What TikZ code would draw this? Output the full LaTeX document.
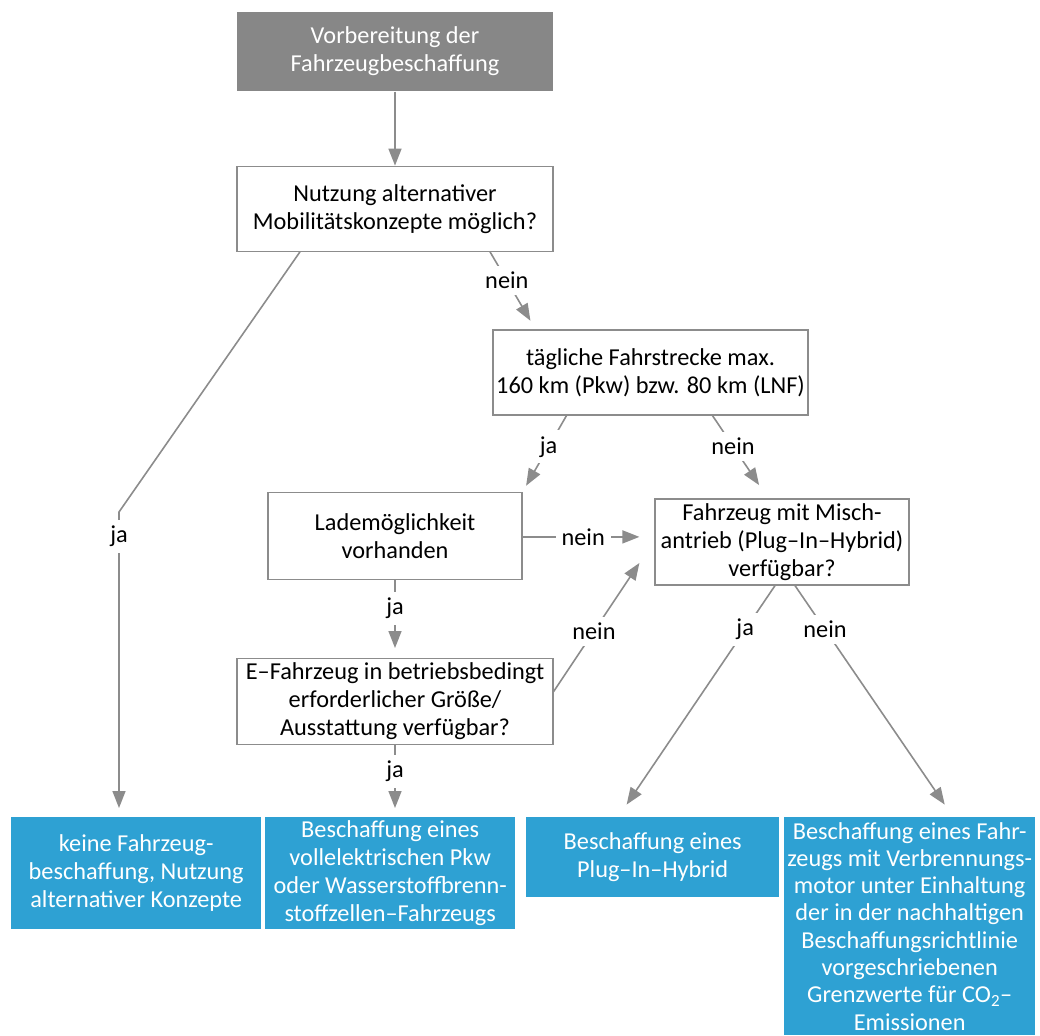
\documentclass[tikz,border=0pt]{standalone}
\usepackage{fontspec}
\setmainfont{Carlito}
\usepackage{tikz}
\usetikzlibrary{arrows.meta,positioning,calc}
\usepackage{xcolor}
\definecolor{linegray}{RGB}{140,140,140}
\definecolor{headgray}{RGB}{135,135,135}
\definecolor{resultblue}{RGB}{46,161,211}

\begin{document}
\begin{tikzpicture}[x=1pt, y=-1pt, font=\fontsize{24.3}{28}\selectfont]

    \tikzstyle{block} = [
        rectangle,
        draw=linegray,
        line width=1.2pt,
        fill=white,
        align=center,
        inner sep=0pt,
        minimum width=316pt,
        minimum height=85pt,
    ]
    \tikzstyle{head} = [
        block,
        draw=none,
        fill=headgray,
        text=white,
        minimum height=79pt,
    ]
    \tikzstyle{result} = [
        rectangle,
        fill=resultblue,
        text=white,
        align=center,
        anchor=north west,
        inner sep=0pt,
        minimum width=250pt,
        minimum height=112pt,
    ]
    \tikzstyle{line} = [
        draw=linegray,
        line width=1.6pt,
        -{Triangle[width=13pt,length=17pt]},
    ]
    \tikzstyle{answer} = [
        fill=white,
        inner sep=6pt,
    ]

    \useasboundingbox (0,0) rectangle (1040,1035);

    \node [head] (prep) at (395,51.5) {Vorbereitung der\\Fahrzeugbeschaffung};
    \node [block, below=74pt of prep] (alt) {Nutzung alternativer\\Mobilitätskonzepte möglich?};
    \node [block, minimum width=315pt] (dist) at (650.5,372.5)
        {tägliche Fahrstrecke max.\\160 km (Pkw) bzw. 80 km (LNF)};
    \node [block, minimum width=254pt, minimum height=87pt, below=240pt of alt] (charge)
        {Lademöglichkeit\\vorhanden};
    \node [block, minimum width=254pt, minimum height=86pt] (hybq) at (782,542)
        {Fahrzeug mit Misch-\\antrieb (Plug–In–Hybrid)\\verfügbar?};
    \node [block, minimum height=86pt, below=78pt of charge] (evq)
        {E–Fahrzeug in betriebsbedingt\\erforderlicher Größe/\\Ausstattung verfügbar?};

    % Ergebnisse
    \node [result] (res1) at (11,817)
        {keine Fahrzeug-\\beschaffung, Nutzung\\alternativer Konzepte};
    \node [result] (res2) at (265,817)
        {Beschaffung eines\\vollelektrischen Pkw\\oder Wasserstoffbrenn-\\stoffzellen–Fahrzeugs};
    \node [result, minimum width=253pt, minimum height=80pt] (res3) at (526,817)
        {Beschaffung eines\\Plug–In–Hybrid};
    \node [result, minimum width=251pt, minimum height=218pt,
        font=\fontsize{24.3}{27.3}\selectfont] (res4) at (784,817)
        {Beschaffung eines Fahr-\\zeugs mit Verbrennungs-\\motor unter Einhaltung\\der in der nachhaltigen\\Beschaffungsrichtlinie\\vorgeschriebenen\\Grenzwerte für CO\textsubscript{2}–\\Emissionen};

    \coordinate (jbend) at (119,512);
    \coordinate (nstart) at ([yshift=-1pt]charge.east);

    \path [line] (prep) -- (alt);
    \path [line, shorten >=9pt] ([xshift=-95pt]alt.south) -- (jbend)
        -- node [answer, pos=0.08] {ja} (jbend |- res1.north);
    \path [line, shorten >=10pt] ([xshift=95pt]alt.south)
        -- node [answer, pos=0.37] {nein} ([xshift=-115pt]dist.north);

    \path [line, shorten >=7pt] ([xshift=-84pt]dist.south)
        -- node [answer, pos=0.41] {ja} (charge.north east);
    \path [line, shorten >=16pt] ([xshift=62pt]dist.south)
        -- node [answer, pos=0.37] {nein} ([xshift=-14pt]hybq.north);

    \path [line, shorten >=15pt] (nstart)
        -- node [answer, pos=0.46] {nein} (hybq.west |- nstart);
    \path [line, shorten >=10pt] (charge)
        -- node [answer, pos=0.36] {ja} (evq);

    \path [line] ([yshift=10pt]evq.east)
        -- node [answer, pos=0.47] {nein} ([xshift=-15pt,yshift=-21pt]hybq.west);
    \path [line, shorten >=9pt] (evq.south)
        -- node [answer, pos=0.36] {ja} (evq.south |- res2.north);

    \path [line, shorten >=15pt] ([xshift=-7pt]hybq.south)
        -- node [answer, pos=0.19] {ja} ([xshift=-34.5pt]res3.north);
    \path [line, shorten >=15pt] ([xshift=13pt]hybq.south)
        -- node [answer, pos=0.19] {nein} ([xshift=43.5pt]res4.north);

\end{tikzpicture}
\end{document}
